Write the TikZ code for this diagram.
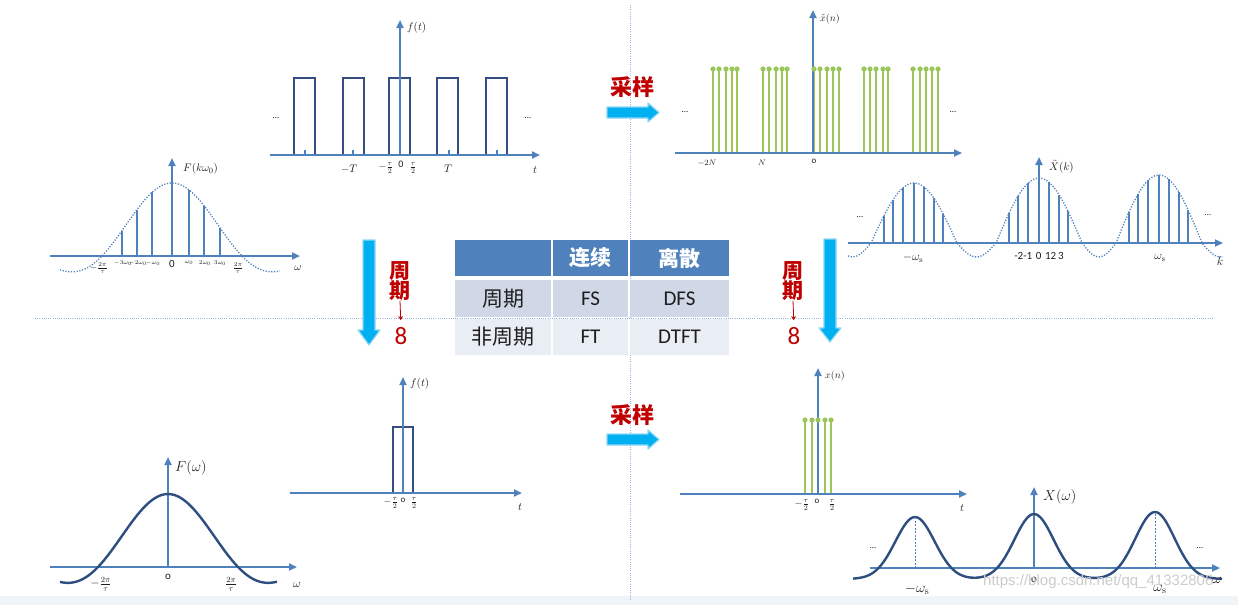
\documentclass[tikz,border=0pt]{standalone}
\usepackage[no-math]{fontspec}
\setmainfont{Carlito}
\newfontfamily\cjk{Noto Sans CJK SC}
\newfontfamily\wmfont{Liberation Sans}
\usetikzlibrary{arrows.meta}
\newcommand\setfs[1]{\fontsize{#1}{#1}\selectfont}
\definecolor{axisblue}{RGB}{79,129,189}
\definecolor{pulseblue}{RGB}{52,78,130}
\definecolor{curveblue}{RGB}{47,78,128}
\definecolor{stemgreen}{RGB}{155,199,90}
\definecolor{darkred}{RGB}{192,0,0}
\definecolor{arrowcyan}{RGB}{0,176,240}
\definecolor{arrowedge}{RGB}{140,215,245}
\definecolor{hdrblue}{RGB}{79,129,189}
\definecolor{rowa}{RGB}{208,216,232}
\definecolor{rowb}{RGB}{233,237,244}
\definecolor{divider}{RGB}{150,180,222}
\definecolor{band}{RGB}{240,243,248}
\definecolor{txt}{RGB}{30,30,30}
\begin{document}
\begin{tikzpicture}[x=1pt,y=-1pt,
  declare function={g(\x)=exp(max(-10,-(\x/19.6)^2/2)); sincw(\x)=sin(2.5714*\x)/(0.044880*\x);},
  axis/.style={draw=axisblue,line width=2.2pt,-{Triangle[width=7pt,length=8pt]}},
  pulse/.style={draw=pulseblue,line width=1.4pt},
  tickmark/.style={draw=axisblue,line width=1.4pt},
  bstem/.style={draw=axisblue,line width=1.4pt},
  gstem/.style={draw=stemgreen,line width=1.6pt},
  dotcurve/.style={draw=axisblue,line width=1.3pt,dash pattern=on 1.2pt off 1.6pt},
  solidcurve/.style={draw=curveblue,line width=2.4pt},
  divline/.style={draw=divider,line width=0.9pt,dash pattern=on 0.9pt off 1.3pt},
  lbl/.style={inner sep=0pt,text=txt},
  dotslbl/.style={inner sep=0pt,text=txt,font=\setfs{9}},
  cell/.style={inner sep=0pt,minimum height=36pt,text=txt,font=\setfs{21}},
  cjkcell/.style={cell,font=\cjk\setfs{21}},
  hdrcell/.style={cell,text=white,fill=hdrblue,font=\cjk\bfseries\setfs{21}},
  redcjk/.style={inner sep=0pt,text=darkred,font=\cjk\bfseries\setfs{22}},
  redv/.style={inner sep=0pt,text=darkred,align=center,font=\cjk\bfseries\fontsize{21}{20}\selectfont},
  infty/.style={inner sep=0pt,text=darkred,font=\setfs{25}},
  redarrow/.style={draw=darkred,line width=0.8pt,-{Stealth[width=5pt,length=4pt]}},
  bigarrow/.style={fill=arrowcyan,draw=arrowedge,line width=1.2pt,line join=round}
]
\useasboundingbox (0,0) rectangle (1238,605);
\fill[white] (0,0) rectangle (1238,605);
\fill[band] (0,596) rectangle (1238,605);

% dividers
\draw[divline] (630,5) -- (630,600);
\draw[divline] (35,318) -- (1213,318);

% ---------- top middle: periodic pulses ----------
\foreach \a in {294,343,389,437,486}
  \draw[pulse] (\a,155) rectangle (\a+21,78);
\foreach \t in {305,353,449,497}
  \draw[tickmark] (\t,155) -- (\t,150);
\draw[axis] (270,155) -- (540,155);
\draw[axis] (400,155) -- (400,20);
\node[lbl,anchor=west,font=\setfs{11}] (ftA) at (407,28) {$f(t)$};
\node[lbl,font=\setfs{11}] (mTA) at (349,169) {$-T$};
\node[lbl,font=\setfs{10}] (mtauA) at (386,168) {$-\frac{\tau}{2}$};
\node[lbl,font=\setfs{10}] (zeroA) at (401,164) {0};
\node[lbl,font=\setfs{10}] (tauA) at (413,168) {$\frac{\tau}{2}$};
\node[lbl,font=\setfs{11}] (TA) at (448,169) {$T$};
\node[lbl,font=\setfs{11}] (tA) at (535,170) {$t$};
\node[dotslbl] (dA1) at (276,118) {\ldots};
\node[dotslbl] (dA2) at (528,118) {\ldots};

% ---------- top left: F(k w0) ----------
\draw[dotcurve] plot[domain=-112:108,samples=89] ({172+\x},{256-73*sincw(\x)});
\foreach \d in {-50,-35,-20,17,32,48}
  \draw[bstem] ({172+\d},256) -- ({172+\d},{256-73*sincw(\d)});
\draw[axis] (50,256) -- (300,256);
\draw[axis] (172,256) -- (172,158);
\node[lbl,anchor=west,font=\setfs{11}] (FkA) at (183,169) {$F(k\omega_0)$};
\node[lbl,font=\setfs{9}] (m2piA) at (99,268) {$-\frac{2\pi}{\tau}$};
\node[lbl,font=\setfs{6}] (m3wA) at (123,263) {$-3\omega_0$};
\node[lbl,font=\setfs{6}] (m2wA) at (138,263) {$-2\omega_0$};
\node[lbl,font=\setfs{6}] (m1wA) at (153,263) {$-\omega_0$};
\node[lbl,font=\setfs{11}] (zeroB) at (172,264) {0};
\node[lbl,font=\setfs{6}] (p1wA) at (189,263) {$\omega_0$};
\node[lbl,font=\setfs{6}] (p2wA) at (205,263) {$2\omega_0$};
\node[lbl,font=\setfs{6}] (p3wA) at (220,263) {$3\omega_0$};
\node[lbl,font=\setfs{9}] (p2piA) at (238,268) {$\frac{2\pi}{\tau}$};
\node[lbl,font=\setfs{11}] (wA) at (298,268) {$\omega$};

% ---------- top right: x~(n) ----------
\foreach \p in {713,719,726,732,737,763,769,776,782,787,814,820,827,833,839,864,870,876,883,888,913,920,926,932,938}
  \draw[gstem] (\p,153) -- (\p,69);
\draw[axis] (675,153) -- (962,153);
\draw[axis] (813,153) -- (813,10);
\foreach \p in {713,719,726,732,737,763,769,776,782,787,814,820,827,833,839,864,870,876,883,888,913,920,926,932,938}
  \fill[stemgreen] (\p,69) circle (2.6);
\node[lbl,anchor=west,font=\setfs{10}] (xnA) at (820,19) {$\tilde{x}(n)$};
\node[lbl,font=\setfs{8}] (m2NA) at (707,163) {$-2N$};
\node[lbl,font=\setfs{8}] (NA) at (762,163) {$N$};
\node[lbl,font=\setfs{9}] (oA) at (814,161) {o};
\node[dotslbl] (dB1) at (685,112) {\ldots};
\node[dotslbl] (dB2) at (953,112) {\ldots};

% ---------- right middle: X~(k) ----------
\draw[dotcurve] plot[domain=848:871,samples=6] (\x,{243+14*sin(4.865*(871-\x))})
  -- plot[domain=871:957,samples=30] (\x,{243-60*cos(2.093*(\x-914))})
  -- plot[domain=957:996,samples=12] (\x,{243+14*sin(4.615*(\x-957))})
  -- plot[domain=996:1082,samples=30] (\x,{243-65*cos(2.093*(\x-1039))})
  -- plot[domain=1082:1116,samples=12] (\x,{243+14*sin(5.294*(\x-1082))})
  -- plot[domain=1116:1202,samples=30] (\x,{243-68*cos(2.093*(\x-1159))})
  -- plot[domain=1202:1223,samples=6] (\x,{243+14*sin(4.865*(\x-1202))});
\foreach \c/\h in {914/60,1039/65,1159/68}
  \foreach \d in {-30,-21,-11,0,10,20,29}
    \draw[bstem] ({\c+\d},243) -- ({\c+\d},{243-\h*cos(2.093*\d)});
\draw[axis] (848,243) -- (1223,243);
\draw[axis] (1039,243) -- (1039,157);
\node[lbl,anchor=west,font=\setfs{11}] (XkA) at (1049,167) {$\tilde{X}(k)$};
\node[lbl,font=\setfs{12}] (mwsA) at (913,258) {$-\omega_{\mathrm{s}}$};
\node[lbl,font=\setfs{11}] (kidx) at (1039,256) {-2-1\,\,0\,\,12\,3};
\node[lbl,font=\setfs{12}] (wsA) at (1160,258) {$\omega_{\mathrm{s}}$};
\node[lbl,font=\setfs{12}] (kA) at (1220,261) {$k$};
\node[dotslbl] (dC1) at (860,217) {\ldots};
\node[dotslbl] (dC2) at (1208,215) {\ldots};

% ---------- table ----------
\node[hdrcell,minimum width=96pt] (h0) at (503,258) {};
\node[hdrcell,minimum width=75pt] (h1) at (590.5,258) {连续};
\node[hdrcell,minimum width=99pt] (h2) at (679.5,258) {离散};
\node[cjkcell,fill=rowa,minimum width=96pt,minimum height=37pt] (r10) at (503,298.5) {周期};
\node[cell,fill=rowa,minimum width=75pt,minimum height=37pt] (r11) at (590.5,298.5) {FS};
\node[cell,fill=rowa,minimum width=99pt,minimum height=37pt] (r12) at (679.5,298.5) {DFS};
\node[cjkcell,fill=rowb,minimum width=96pt] (r20) at (503,337) {非周期};
\node[cell,fill=rowb,minimum width=75pt] (r21) at (590.5,337) {FT};
\node[cell,fill=rowb,minimum width=99pt] (r22) at (679.5,337) {DTFT};

% ---------- big cyan arrows ----------
\draw[bigarrow] (363,240) -- (375,240) -- (375,330) -- (380,330) -- (369,345) -- (358,330) -- (363,330) -- cycle;
\draw[bigarrow] (824,239) -- (836,239) -- (836,328) -- (841,328) -- (830,342) -- (819,328) -- (824,328) -- cycle;
\draw[bigarrow] (607,107) -- (648,107) -- (648,103) -- (659,112.5) -- (648,122) -- (648,118) -- (607,118) -- cycle;
\draw[bigarrow] (607,434) -- (648,434) -- (648,430) -- (659,439.5) -- (648,449) -- (648,445) -- (607,445) -- cycle;

\node[redcjk] (cyA) at (632,87) {采样};
\node[redcjk] (cyB) at (632,415) {采样};

\node[redv] (zqA) at (400,281) {周\\期};
\node[infty] (infA) at (401,336) {8};
\draw[redarrow,shorten >=7pt] (zqA.south) -- (infA.north);
\node[redv] (zqB) at (793,281) {周\\期};
\node[infty] (infB) at (794,336) {8};
\draw[redarrow,shorten >=7pt] (zqB.south) -- (infB.north);

% ---------- bottom middle: single pulse ----------
\draw[pulse] (393,493) rectangle (413,427);
\draw[axis] (290,493) -- (522,493);
\draw[axis] (403,493) -- (403,377);
\node[lbl,anchor=west,font=\setfs{11}] (ftB) at (410,384) {$f(t)$};
\node[lbl,font=\setfs{10}] (mtauB) at (391,503) {$-\frac{\tau}{2}$};
\node[lbl,font=\setfs{9}] (oB) at (403,500) {o};
\node[lbl,font=\setfs{10}] (tauB) at (414,503) {$\frac{\tau}{2}$};
\node[lbl,font=\setfs{11}] (tB) at (520,507) {$t$};

% ---------- bottom left: F(w) ----------
\draw[axis] (50,567) -- (297,567);
\draw[axis] (168,567) -- (168,457);
\draw[solidcurve] plot[domain=-108:109,samples=88] ({168+\x},{567-73*sincw(\x)});
\node[lbl,anchor=west,font=\setfs{15}] (FwA) at (175,468) {$F(\omega)$};
\node[lbl,font=\setfs{12}] (m2piB) at (101,584) {$-\frac{2\pi}{\tau}$};
\node[lbl,font=\setfs{11}] (oC) at (168,577) {o};
\node[lbl,font=\setfs{12}] (p2piB) at (231,584) {$\frac{2\pi}{\tau}$};
\node[lbl,font=\setfs{13}] (wB) at (297,585) {$\omega$};

% ---------- bottom right: x(n) ----------
\foreach \p in {805,812,825,831}
  \draw[gstem] (\p,494) -- (\p,420);
\draw[axis] (680,494) -- (967,494);
\draw[axis] (818,494) -- (818,368);
\foreach \p in {805,812,818,825,831}
  \fill[stemgreen] (\p,420) circle (2.6);
\node[lbl,anchor=west,font=\setfs{10}] (xnB) at (825,376) {$x(n)$};
\node[lbl,font=\setfs{10}] (mtauC) at (802,505) {$-\frac{\tau}{2}$};
\node[lbl,font=\setfs{9}] (oD) at (817,501) {o};
\node[lbl,font=\setfs{10}] (tauC) at (832,505) {$\frac{\tau}{2}$};
\node[lbl,font=\setfs{11}] (tC) at (962,508) {$t$};

% ---------- bottom right: X(w) ----------
\draw[axis] (870,568) -- (1220,568);
\draw[axis] (1034,568) -- (1034,487);
\draw[solidcurve] plot[domain=853:1222,samples=160] (\x,{568-(62*g(\x-915)+65*g(\x-1034)+67*g(\x-1155)-11)});
\draw[axisblue,line width=0.9pt,dash pattern=on 2pt off 1.5pt] (915,568) -- (915,517);
\draw[axisblue,line width=0.9pt,dash pattern=on 2pt off 1.5pt] (1155,568) -- (1155,512);
\node[lbl,anchor=west,font=\setfs{14}] (XwA) at (1043,497) {$X(\omega)$};
\node[lbl,font=\setfs{14}] (mwsB) at (917,589) {$-\omega_{\mathrm{s}}$};
\node[lbl,font=\setfs{11}] (oE) at (1034,580) {o};
\node[lbl,font=\setfs{14}] (wsB) at (1160,589) {$\omega_{\mathrm{s}}$};
\node[lbl,font=\setfs{14}] (wC) at (1217,580) {$\omega$};
\node[dotslbl] (dD1) at (873,548) {\ldots};
\node[dotslbl] (dD2) at (1200,548) {\ldots};

% watermark
\node[inner sep=0pt,text=black!20,font=\wmfont\setfs{15},anchor=west] (wm) at (983,582) {https://blog.csdn.net/qq\_41332806};
\end{tikzpicture}
\end{document}
